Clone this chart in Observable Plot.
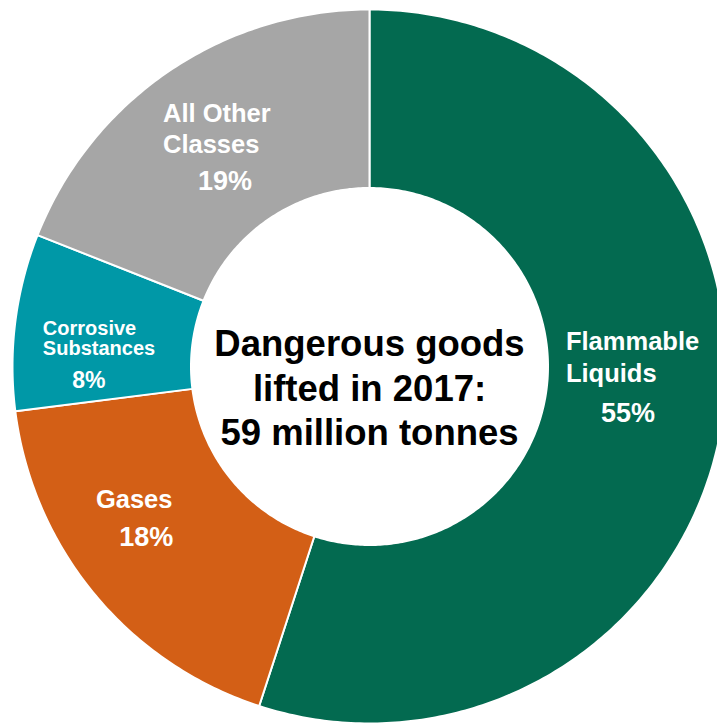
<!DOCTYPE html>
<html><head><meta charset="utf-8">
<script src="https://cdn.jsdelivr.net/npm/d3@7"></script>
<script src="https://cdn.jsdelivr.net/npm/@observablehq/plot@0.6"></script>
<style>body{margin:0;background:#fff}#chart svg{display:block}</style>
</head><body><div id="chart"></div>
<script>
// ---- data ----
const categories = ["Flammable Liquids", "Gases", "Corrosive Substances", "All Other Classes"];
const shares = [55, 18, 8, 19];
const nameLines = ["Flammable\nLiquids", "Gases", "Corrosive\nSubstances", "All Other\nClasses"];
const colors = ["#036a50", "#d35f16", "#0098a7", "#a6a6a6"];
const centerText = "Dangerous goods\nlifted in 2017:\n59 million tonnes";

// ---- layout (label placement relative to slice mid-angle anchor) ----
const labelLayout = [
  {anchor: "start",  dx: -68, dy: -26, size: 25.5, lh: 1.26, pdx: -6,  pdy: 14, psize: 27},
  {anchor: "middle", dx: -29, dy: -29, size: 25.5, lh: 1.2,  pdx: -17, pdy: 9,  psize: 27},
  {anchor: "start",  dx: -61, dy: 22,  size: 20,   lh: 1.0,  pdx: -15, pdy: 55, psize: 23},
  {anchor: "start",  dx: -56, dy: 8,   size: 25.5, lh: 1.2,  pdx: 6,   pdy: 45, psize: 27}
];

const R = 1, r0 = 0.5, labelR = 0.75;
const total = d3.sum(shares);
let cum = 0;
const slices = categories.map((name, i) => {
  const a0 = cum / total * 2 * Math.PI;
  cum += shares[i];
  const a1 = cum / total * 2 * Math.PI;
  return {name, value: shares[i], a0, a1, mid: (a0 + a1) / 2, i};
});

const pts = [];
for (const s of slices) {
  const N = Math.max(8, Math.ceil((s.a1 - s.a0) * 80));
  for (let k = 0; k <= N; k++) {
    const a = s.a0 + (s.a1 - s.a0) * k / N;
    pts.push({name: s.name, x: R * Math.sin(a), y: R * Math.cos(a)});
  }
  for (let k = N; k >= 0; k--) {
    const a = s.a0 + (s.a1 - s.a0) * k / N;
    pts.push({name: s.name, x: r0 * Math.sin(a), y: r0 * Math.cos(a)});
  }
}

const font = "'Liberation Sans', Arial, Helvetica, sans-serif";
const marks = [
  Plot.line(pts, {x: "x", y: "y", z: "name", fill: "name", stroke: "white", strokeWidth: 2, curve: "linear-closed"})
];
slices.forEach((s, i) => {
  const L = labelLayout[i];
  const anchorPt = [{x: labelR * Math.sin(s.mid), y: labelR * Math.cos(s.mid)}];
  marks.push(Plot.text(anchorPt, {
    x: "x", y: "y", text: () => nameLines[i], textAnchor: L.anchor, lineAnchor: "bottom",
    lineHeight: L.lh, dx: L.dx, dy: L.dy, fill: "white", fontSize: L.size, fontWeight: "bold", fontFamily: font
  }));
  marks.push(Plot.text(anchorPt, {
    x: "x", y: "y", text: () => shares[i] + "%", textAnchor: "middle", lineAnchor: "bottom",
    dx: L.pdx, dy: L.pdy, fill: "white", fontSize: L.psize, fontWeight: "bold", fontFamily: font
  }));
});
marks.push(Plot.text([{x: 0, y: 0}], {
  x: "x", y: "y", text: () => centerText, textAnchor: "middle", lineHeight: 1.22, dy: 20,
  fill: "black", fontSize: 36.5, fontWeight: "bold", fontFamily: font
}));

const chart = Plot.plot({
  width: 717, height: 726,
  margin: 0,
  x: {domain: [-369 / 357, 348 / 357], axis: null},
  y: {domain: [-360 / 357, 366 / 357], axis: null},
  color: {domain: categories, range: colors},
  style: {background: "white", fontFamily: font},
  marks
});
document.getElementById("chart").append(chart);
</script>
</body></html>
